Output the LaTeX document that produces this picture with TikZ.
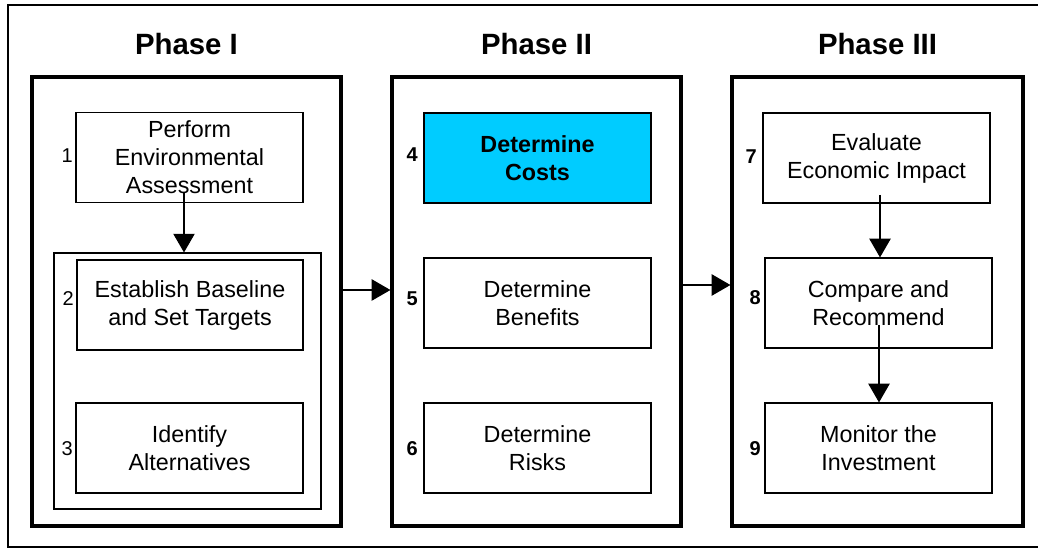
\documentclass[tikz,border=0pt]{standalone}
\usepackage{fontspec}
\setmainfont{Liberation Sans}
\usetikzlibrary{arrows.meta,positioning}
\definecolor{costcyan}{RGB}{0,204,255}
\begin{document}
\begin{tikzpicture}[x=0.75pt,y=-0.75pt,
  phasebox/.style={draw,line width=2.4pt,inner sep=0pt},
  stepbox/.style={draw,line width=0.9pt,inner sep=0pt,minimum width=227*0.75pt,minimum height=90*0.75pt,
    align=center,font=\fontsize{17.5pt}{21pt}\selectfont},
  groupbox/.style={draw,line width=0.8pt,inner sep=0pt},
  heading/.style={font=\fontsize{22pt}{26pt}\selectfont\bfseries},
  numlabel/.style={anchor=east,inner sep=0pt,font=\fontsize{15pt}{18pt}\selectfont},
  boldnum/.style={numlabel,font=\fontsize{15pt}{18pt}\selectfont\bfseries},
  arr/.style={line width=0.8pt,-{Triangle[width=16pt,length=14pt]}}]
\useasboundingbox (0,0) rectangle (1038,548);
% outer frame (right side runs off the picture)
\draw[line width=1.1pt] (1045,5) -- (8,5) -- (8,547) -- (1045,547);
% headings
\node[heading] (h1) at (186.5,44) {Phase I};
\node[heading] (h2) at (536.5,44) {Phase II};
\node[heading] (h3) at (877.5,44) {Phase III};
% phase boxes
\node[phasebox,minimum width=309*0.75pt,minimum height=449*0.75pt] (P1) at (186.5,301.5) {};
\node[phasebox,minimum width=289*0.75pt,minimum height=449*0.75pt] (P2) at (536.5,301.5) {};
\node[phasebox,minimum width=291*0.75pt,minimum height=449*0.75pt] (P3) at (877.5,301.5) {};
% group in phase I
\node[groupbox,minimum width=267*0.75pt,minimum height=256*0.75pt] (grp) at (187.5,381) {};
% steps
\node[stepbox,fill=white] (b1) at (189.5,157.5) {Perform\\Environmental\\Assessment};
\node[stepbox,minimum width=226*0.75pt] (b2) at (190,305) {Establish Baseline\\and Set Targets};
\node[stepbox] (b3) at (189.5,448) {Identify\\Alternatives};
\node[stepbox,fill=costcyan,font=\fontsize{17.5pt}{21pt}\selectfont\bfseries] (b4) at (537.5,158) {Determine\\Costs};
\node[stepbox] (b5) at (537.5,303) {Determine\\Benefits};
\node[stepbox] (b6) at (537.5,448) {Determine\\Risks};
\node[stepbox] (b7) at (876.5,158) {Evaluate\\Economic Impact};
\node[stepbox] (b8) at (878.5,303) {Compare and\\Recommend};
\node[stepbox] (b9) at (878.5,448) {Monitor the\\Investment};
% numbers
\node[numlabel] (n1) at (73,156) {1};
\node[numlabel] (n2) at (74,299) {2};
\node[numlabel] (n3) at (73,449) {3};
\node[boldnum] (n4) at (418,155) {4};
\node[boldnum] (n5) at (418,299) {5};
\node[boldnum] (n6) at (418,449) {6};
\node[boldnum] (n7) at (757,157) {7};
\node[boldnum] (n8) at (761,298) {8};
\node[boldnum] (n9) at (761,449) {9};
% connectors
\coordinate (a1) at (184,193);
\draw[arr] (a1) -- (a1 |- grp.north);
\coordinate (a2) at (0,290);
\draw[arr] (P1.east |- a2) -- (P2.west |- a2);
\coordinate (a3) at (0,285);
\draw[arr] (P2.east |- a3) -- (P3.west |- a3);
\coordinate (a4) at (880,195);
\draw[arr] (a4) -- (a4 |- b8.north);
\coordinate (a5) at (879,325);
\draw[arr] (a5) -- (a5 |- b9.north);
\end{tikzpicture}
\end{document}
